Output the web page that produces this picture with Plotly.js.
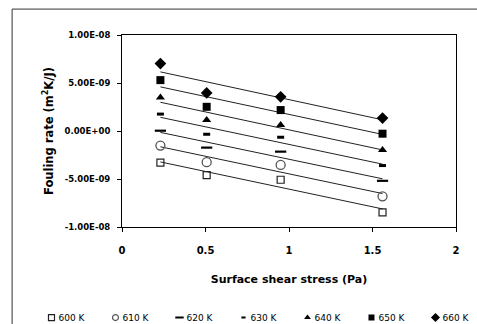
<!DOCTYPE html>
<html>
<head>
<meta charset="utf-8">
<script src="https://cdn.plot.ly/plotly-3.0.1.min.js"></script>
<style>
html,body{margin:0;padding:0;background:#fff;}
#chart{width:477px;height:324px;}
</style>
</head>
<body>
<div id="chart"></div>
<script>
// Surface shear stress (Pa)
const shear = [0.23, 0.507, 0.95, 1.56];
// Fouling rate (m2K/J) per temperature
const seriesNames = ["600 K", "610 K", "620 K", "630 K", "640 K", "650 K", "660 K"];
const r600 = [-3.3e-9, -4.6e-9, -5.08e-9, -8.47e-9];
const r610 = [-1.52e-9, -3.25e-9, -3.53e-9, -6.8e-9];
const r620 = [0.03e-9, -1.73e-9, -2.15e-9, -5.19e-9];
const r630 = [1.76e-9, -0.34e-9, -0.65e-9, -3.6e-9];
const r640 = [3.5e-9, 1.14e-9, 0.62e-9, -1.97e-9];
const r650 = [5.3e-9, 2.52e-9, 2.18e-9, -0.28e-9];
const r660 = [7.02e-9, 3.97e-9, 3.56e-9, 1.35e-9];
const yTickVals = [1e-8, 5e-9, 0, -5e-9, -1e-8];
const yTickText = ["1.00E-08", "5.00E-09", "0.00E+00", "-5.00E-09", "-1.00E-08"];
const xTickVals = [0, 0.5, 1, 1.5, 2];
const xTickText = ["0", "0.5", "1", "1.5", "2"];

const allSeries = [r600, r610, r620, r630, r640, r650, r660];
const markerStyles = [
  {symbol: "square-open", size: 7, color: "#222", line: {width: 1.2, color: "#222"}},
  {symbol: "circle-open", size: 9, color: "#555", line: {width: 1.3, color: "#555"}},
  {symbol: "line-ew", size: 8, color: "#000", line: {width: 2.2, color: "#000"}},
  {symbol: "line-ew", size: 5, color: "#000", line: {width: 3, color: "#000"}},
  {symbol: "triangle-up", size: 8, color: "#000", line: {width: 0}},
  {symbol: "square", size: 8, color: "#000", line: {width: 0}},
  {symbol: "diamond", size: 9, color: "#000", line: {width: 0}}
];
const legendStyles = [
  {symbol: "square-open", size: 6, color: "#222", line: {width: 1.2, color: "#222"}},
  {symbol: "circle-open", size: 6, color: "#555", line: {width: 1.2, color: "#555"}},
  {symbol: "line-ew", size: 6, color: "#000", line: {width: 2, color: "#000"}},
  {symbol: "line-ew", size: 3, color: "#000", line: {width: 2, color: "#000"}},
  {symbol: "triangle-up", size: 6, color: "#000", line: {width: 0}},
  {symbol: "square", size: 6, color: "#000", line: {width: 0}},
  {symbol: "diamond", size: 7, color: "#000", line: {width: 0}}
];

function fit(x, y) {
  const n = x.length;
  const mx = x.reduce((a, b) => a + b, 0) / n;
  const my = y.reduce((a, b) => a + b, 0) / n;
  let sxx = 0, sxy = 0;
  for (let i = 0; i < n; i++) { sxx += (x[i] - mx) ** 2; sxy += (x[i] - mx) * (y[i] - my); }
  const b = sxy / sxx;
  return v => my + b * (v - mx);
}

const traces = [];
allSeries.forEach((ys, i) => {
  const f = fit(shear, ys);
  const x0 = shear[0], x1 = shear[shear.length - 1];
  traces.push({
    x: [x0, x1], y: [f(x0), f(x1)], mode: "lines", type: "scatter",
    line: {color: "#222", width: 1}, showlegend: false, hoverinfo: "skip"
  });
});
allSeries.forEach((ys, i) => {
  traces.push({
    x: shear, y: ys, mode: "markers", type: "scatter", name: seriesNames[i],
    marker: markerStyles[i], showlegend: false, legendgroup: "g" + i
  });
});
// legend-only entries (smaller symbols, as in the reference legend)
seriesNames.forEach((nm, i) => {
  traces.push({
    x: [null], y: [null], mode: "markers", type: "scatter", name: nm,
    marker: legendStyles[i], showlegend: true, legendgroup: "g" + i
  });
});

const layout = {
  width: 477, height: 324,
  margin: {l: 122, r: 21, t: 35, b: 97, autoexpand: false},
  paper_bgcolor: "#fff", plot_bgcolor: "#fff",
  font: {family: "DejaVu Sans, sans-serif", color: "#000"},
  xaxis: {
    range: [0, 2], tickvals: xTickVals, ticktext: xTickText,
    showgrid: false, zeroline: false, showline: true, mirror: true,
    linecolor: "#000", linewidth: 1, ticks: "outside", ticklen: 4, tickcolor: "#000",
    tickfont: {family: "DejaVu Sans, sans-serif", size: 10, weight: "bold", color: "#000"},
    ticklabelstandoff: 10,
    title: {text: "<b>Surface shear stress (Pa)</b>", font: {family: "DejaVu Sans, sans-serif", size: 11, color: "#000"}, standoff: 20}
  },
  yaxis: {
    range: [-1e-8, 1e-8], tickvals: yTickVals, ticktext: yTickText,
    showgrid: false, zeroline: false, showline: true, mirror: true,
    linecolor: "#000", linewidth: 1, ticks: "outside", ticklen: 4, tickcolor: "#000",
    tickfont: {family: "DejaVu Sans, sans-serif", size: 8.5, weight: "bold", color: "#000"},
    ticklabelstandoff: 5,
    title: {text: "<b>Fouling rate (m<sup>2</sup>K/J)</b>", font: {family: "DejaVu Sans, sans-serif", size: 11.5, color: "#000"}, standoff: 8}
  },
  showlegend: true,
  legend: {
    orientation: "h", x: -0.271, xanchor: "left", y: -0.396, yanchor: "top",
    entrywidth: 19, entrywidthmode: "pixels", itemwidth: 30,
    font: {family: "DejaVu Sans, sans-serif", size: 9, color: "#000"},
    bgcolor: "rgba(0,0,0,0)", tracegroupgap: 0
  },
  shapes: [{
    type: "rect", xref: "paper", yref: "paper",
    x0: -0.329, x1: 1.08, y0: -0.56, y1: 1.135,
    line: {color: "#333", width: 1}, fillcolor: "rgba(0,0,0,0)", layer: "below"
  }]
};

Plotly.newPlot("chart", traces, layout, {staticPlot: true, displayModeBar: false}).then(gd => {
  gd.querySelectorAll(".legendtext").forEach(t => t.setAttribute("x", 27));
});
</script>
</body>
</html>
